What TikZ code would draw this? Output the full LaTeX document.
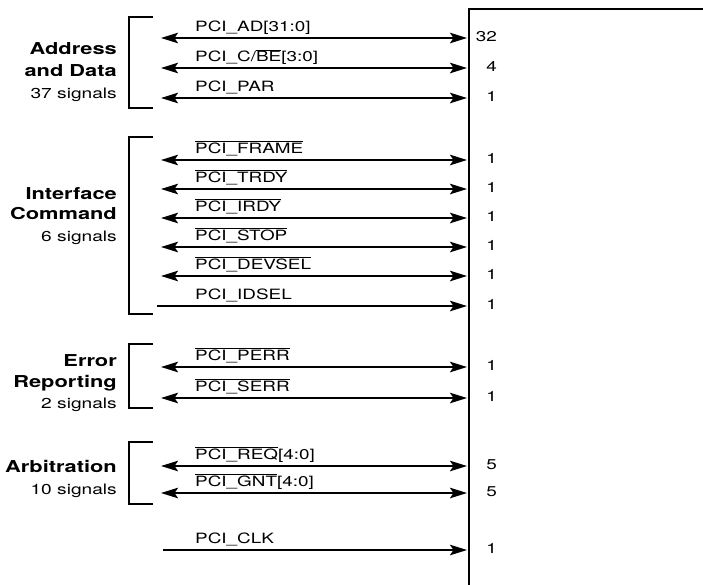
\documentclass[tikz,border=0pt]{standalone}
\usepackage{fontspec}
\setmainfont[FakeStretch=1.33]{TeX Gyre Heros}
\usepackage{tikz}
\usetikzlibrary{arrows.meta, positioning, calc}

\newcommand{\nsig}[1]{$\overline{\hbox{#1}}$}

\tikzset{
  bus/.style={line width=2pt,-{Stealth[length=17pt,width=10.5pt,inset=3.5pt]}},
  bibus/.style={line width=2pt,{Stealth[length=17pt,width=10.5pt,inset=3.5pt]}-{Stealth[length=17pt,width=10.5pt,inset=3.5pt]}},
  siglab/.style={anchor=base west,inner sep=0pt,font=\fontsize{14.2}{16}\selectfont},
  cnt/.style={anchor=base east,inner sep=0pt,font=\fontsize{14.2}{16}\selectfont},
  grp/.style={anchor=base east,inner sep=0pt,font=\fontsize{16.4}{18}\selectfont\bfseries},
  grpn/.style={anchor=base east,inner sep=0pt,font=\fontsize{14.4}{16}\selectfont},
  brk/.style={line width=2.3pt},
  chip/.style={line width=2.8pt}
}

\begin{document}
\begin{tikzpicture}[x=1pt,y=-1pt]
  \useasboundingbox (0,0) rectangle (703,584);

  % device outline (left and top edges only)
  \draw[chip] (469,600) -- (469,9) -- (720,9);
  \coordinate (edge) at (467,0);

  % group brackets
  \draw[brk] (153,17) -| (129,108) -- (153,108);
  \draw[brk] (153,137) -| (129,314) -- (153,314);
  \draw[brk] (153,344) -| (129,408) -- (153,408);
  \draw[brk] (153,442) -| (129,504) -- (153,504);

  % group titles
  \node[grp] (addr-a) at (117,54) {Address};
  \node[grp] (addr-b) at (117,76) {and Data};
  \node[grpn] (addr-n) at (117,98) {37 signals};
  \node[grp] (cmd-a) at (117,199) {Interface};
  \node[grp] (cmd-b) at (117,219) {Command};
  \node[grpn] (cmd-n) at (117,241) {6 signals};
  \node[grp] (err-a) at (117,366) {Error};
  \node[grp] (err-b) at (117,387) {Reporting};
  \node[grpn] (err-n) at (117,408) {2 signals};
  \node[grp] (arb-a) at (117,472) {Arbitration};
  \node[grpn] (arb-n) at (117,494) {10 signals};

  % signals: name / y / label / width / arrow / left end
  \foreach \nm/\y/\lab/\w/\kind/\x in {
      ad/38/{PCI\_AD[31:0]}/32/bibus/161,
      cbe/68/{PCI\_C/\nsig{BE}[3:0]}/4/bibus/161,
      par/98/{PCI\_PAR}/1/bibus/161,
      frame/160/{\nsig{PCI\_FRAME}}/1/bibus/161,
      trdy/189/{\nsig{PCI\_TRDY}}/1/bibus/161,
      irdy/218/{\nsig{PCI\_IRDY}}/1/bibus/161,
      stop/247/{\nsig{PCI\_STOP}}/1/bibus/161,
      devsel/276/{\nsig{PCI\_DEVSEL}}/1/bibus/161,
      idsel/306/{PCI\_IDSEL}/1/bus/157,
      perr/367/{\nsig{PCI\_PERR}}/1/bibus/161,
      serr/398/{\nsig{PCI\_SERR}}/1/bibus/161,
      req/466/{\nsig{PCI\_REQ}[4:0]}/5/bibus/161,
      gnt/493/{\nsig{PCI\_GNT}[4:0]}/5/bibus/161,
      clk/550/{PCI\_CLK}/1/bus/163}{
    \coordinate (\nm-l) at (\x,\y);
    \draw[\kind] (\nm-l) -- (\nm-l -| edge);
    \node[siglab] (\nm-lab) at (195,\y-6.5) {\lab};
    \node[cnt] (\nm-n) at (497,\y+3.5) {\w};
  }
\end{tikzpicture}
\end{document}
